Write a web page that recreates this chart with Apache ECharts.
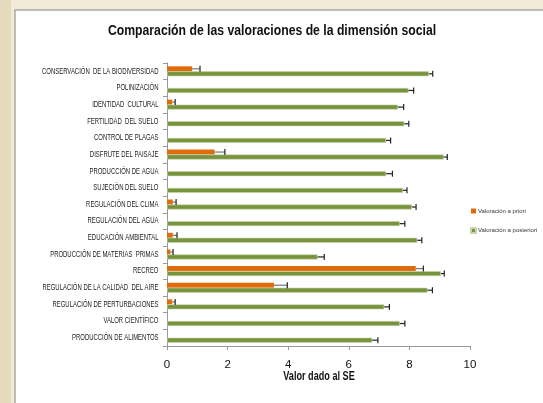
<!DOCTYPE html>
<html>
<head>
<meta charset="utf-8">
<script src="https://cdn.jsdelivr.net/npm/echarts@6/dist/echarts.min.js"></script>
<style>
html,body{margin:0;padding:0;background:#F1EAD6;}
#c{width:543px;height:403px;}
</style>
</head>
<body>
<div id="c"></div>
<script>
const categories = [
  "CONSERVACIÓN  DE LA BIODIVERSIDAD",
  "POLINIZACIÓN",
  "IDENTIDAD  CULTURAL",
  "FERTILIDAD  DEL SUELO",
  "CONTROL DE PLAGAS",
  "DISFRUTE DEL PAISAJE",
  "PRODUCCIÓN DE AGUA",
  "SUJECIÓN DEL SUELO",
  "REGULACIÓN DEL CLIMA",
  "REGULACIÓN DEL AGUA",
  "EDUCACIÓN AMBIENTAL",
  "PRODUCCIÓN DE MATERIAS  PRIMAS",
  "RECREO",
  "REGULACIÓN DE LA CALIDAD  DEL AIRE",
  "REGULACIÓN DE PERTURBACIONES",
  "VALOR CIENTÍFICO",
  "PRODUCCIÓN DE ALIMENTOS"
];
const priori      = [0.83, 0, 0.17, 0, 0, 1.57, 0, 0, 0.19, 0, 0.19, 0.11, 8.21, 3.53, 0.17, 0, 0];
const prioriErr   = [0.26, 0, 0.10, 0, 0, 0.34, 0, 0, 0.11, 0, 0.14, 0.09, 0.25, 0.44, 0.10, 0, 0];
const posteriori  = [8.64, 7.97, 7.62, 7.83, 7.23, 9.13, 7.23, 7.79, 8.08, 7.68, 8.26, 4.97, 9.04, 8.60, 7.17, 7.68, 6.77];
const posterioriErr = [0.13, 0.17, 0.19, 0.15, 0.15, 0.12, 0.21, 0.13, 0.14, 0.17, 0.15, 0.22, 0.11, 0.16, 0.17, 0.17, 0.19];
const xTicks = [0, 2, 4, 6, 8, 10];
const titleText = 'Comparación de las valoraciones de la dimensión social';
const xAxisTitle = 'Valor dado al SE';
const legendNames = ['Valoración a priori', 'Valoración a posteriori'];

const FONT = '"Liberation Sans", Arial, sans-serif';
const BAR_W = 5;
const chart = echarts.init(document.getElementById('c'));

function errSeries(vals, errs, dy, lineColor) {
  const data = vals.map((v, i) => [v, i, errs[i]]).filter(d => d[2] > 0);
  return {
    type: 'custom',
    silent: true,
    z: 5,
    data: data,
    encode: {x: 0, y: 1},
    renderItem: function (params, api) {
      const v = api.value(0), i = api.value(1), e = api.value(2);
      const p0 = api.coord([v, i]);
      const p1 = api.coord([v + e, i]);
      const y = p0[1] + dy;
      return {
        type: 'group',
        children: [
          {type: 'line', shape: {x1: p0[0], y1: y, x2: p1[0], y2: y}, style: {stroke: lineColor, lineWidth: 1.2}},
          {type: 'line', shape: {x1: p1[0], y1: y - 3, x2: p1[0], y2: y + 3}, style: {stroke: '#222', lineWidth: 1.2}}
        ]
      };
    }
  };
}

// category labels drawn at the axis positions (narrowed to mimic the condensed original font)
const labelSeries = {
  type: 'custom',
  silent: true,
  clip: false,
  z: 6,
  data: categories.map((c, i) => [0, i]),
  encode: {x: 0, y: 1},
  renderItem: function (params, api) {
    const i = api.value(1);
    const p = api.coord([0, i]);
    return {
      type: 'text',
      x: p[0] - 8.5,
      y: p[1],
      scaleX: 0.70,
      style: {text: categories[i], align: 'right', verticalAlign: 'middle', fontSize: 8.5, fontFamily: FONT, fill: '#222'}
    };
  }
};

chart.setOption({
  backgroundColor: '#F1EAD6',
  animation: false,
  graphic: [
    {type: 'rect', shape: {x: 0, y: 0, width: 11, height: 403}, style: {fill: '#E4DABC'}, z: -10},
    {type: 'rect', shape: {x: 15, y: 10, width: 540, height: 400}, style: {fill: '#ffffff', stroke: '#A8A8A8', lineWidth: 1.5}, z: -9},
    {type: 'text', x: 272, y: 31, scaleX: 0.815,
     style: {text: titleText, align: 'center', verticalAlign: 'middle', fontSize: 15, fontWeight: 'bold', fontFamily: FONT, fill: '#111'}},
    {type: 'text', x: 319, y: 377, scaleX: 0.76,
     style: {text: xAxisTitle, align: 'center', verticalAlign: 'middle', fontSize: 12, fontWeight: 'bold', fontFamily: FONT, fill: '#111'}}
  ],
  legend: {
    orient: 'vertical',
    left: 465,
    top: 203,
    itemWidth: 5,
    itemHeight: 5,
    itemGap: 13,
    icon: 'rect',
    textStyle: {fontSize: 6, color: '#333', fontFamily: FONT, padding: [0, 0, 0, -3]},
    data: legendNames
  },
  grid: {left: 167, right: 73, top: 63, bottom: 57, containLabel: false},
  xAxis: {
    type: 'value',
    min: 0, max: 10, interval: 2,
    axisLine: {show: true, lineStyle: {color: '#999'}},
    axisTick: {show: true, length: 4, lineStyle: {color: '#999'}},
    axisLabel: {fontFamily: FONT, fontSize: 11.5, color: '#111', margin: 13, formatter: function (v) { return xTicks.indexOf(v) >= 0 ? String(v) : ''; }},
    splitLine: {show: false}
  },
  yAxis: {
    type: 'category',
    inverse: true,
    data: categories,
    axisLine: {show: true, lineStyle: {color: '#999'}},
    axisTick: {show: true, length: 4, lineStyle: {color: '#999'}},
    axisLabel: {show: false}
  },
  series: [
    {name: legendNames[0], type: 'bar', data: priori, barWidth: BAR_W, barGap: '0%',
     itemStyle: {color: '#E36C0A'}},
    {name: legendNames[1], type: 'bar', data: posteriori, barWidth: BAR_W, barGap: '0%',
     itemStyle: {color: '#77933C', borderColor: '#C9D5AE', borderWidth: 0.6}},
    errSeries(priori, prioriErr, -BAR_W / 2, '#777'),
    errSeries(posteriori, posterioriErr, BAR_W / 2, '#222'),
    labelSeries
  ]
});
</script>
</body>
</html>
